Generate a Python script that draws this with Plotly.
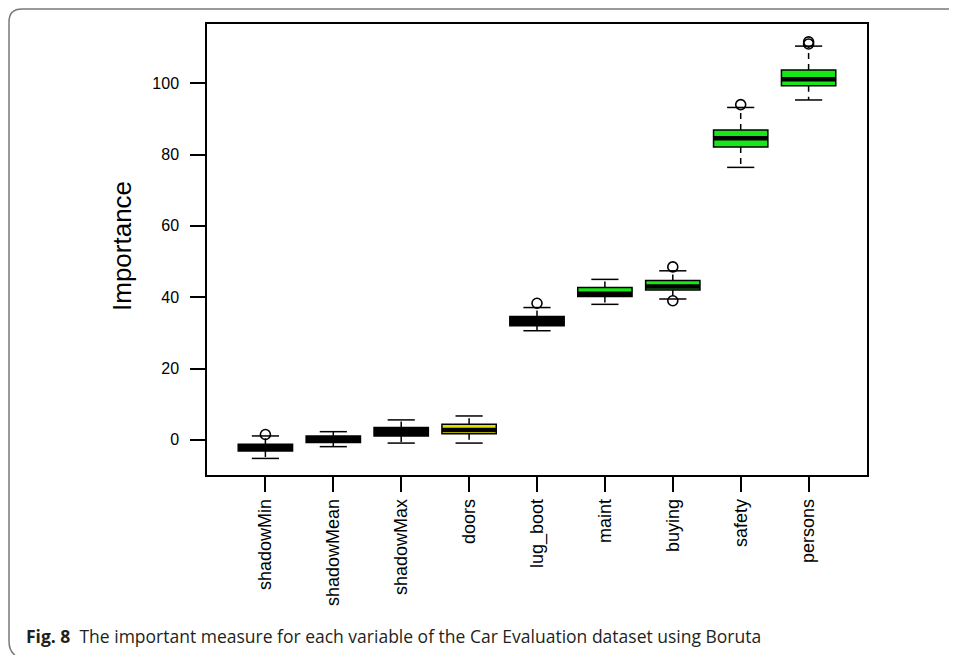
import plotly.graph_objects as go

# ---- data ----
categories = ["shadowMin", "shadowMean", "shadowMax", "doors", "lug_boot",
              "maint", "buying", "safety", "persons"]
q1_vals     = [-3.1, -0.75, 1.1, 1.7, 32.0, 40.2, 42.0, 82.1, 99.3]
median_vals = [-2.2, 0.2, 2.3, 2.8, 33.2, 41.0, 43.0, 84.6, 101.1]
q3_vals     = [-1.2, 1.1, 3.45, 4.4, 34.6, 42.7, 44.7, 86.9, 103.7]
low_whisker = [-5.2, -1.9, -0.9, -0.9, 30.6, 38.0, 39.5, 76.4, 95.3]
high_whisker = [1.1, 2.3, 5.6, 6.7, 37.1, 45.0, 47.4, 93.2, 110.4]
outliers = [[1.5], [], [], [], [38.3], [], [48.5, 39.0], [94.0], [111.0, 111.6]]
box_colors = ["#000000", "#000000", "#000000", "#e0e000", "#000000",
              "#19e619", "#19e619", "#19e619", "#19e619"]
y_ticks = [0, 20, 40, 60, 80, 100]

# ---- layout geometry (screen px; page body has an 8px margin) ----
OFF = 8
WIDTH, HEIGHT = 957 - OFF, 655 - OFF
L, R, T, B = 207 - OFF, 867 - OFF, 24 - OFF, 475 - OFF
PW, PH = R - L, B - T


def px2x(px):
    return (px - OFF - L) / PW


def py2y(py):
    return (B - (py - OFF)) / PH


fig = go.Figure()
xs = list(range(1, len(categories) + 1))
BOXW = 0.8
LW = 1.5

for i, x in enumerate(xs):
    # box body
    fig.add_trace(go.Box(
        x=[x], q1=[q1_vals[i]], median=[median_vals[i]], q3=[q3_vals[i]],
        lowerfence=[q1_vals[i]], upperfence=[q3_vals[i]],
        width=BOXW, fillcolor=box_colors[i],
        line=dict(color="black", width=LW), whiskerwidth=0,
        boxpoints=False, showlegend=False, hoverinfo="skip"))
    # dashed whiskers
    fig.add_trace(go.Scatter(
        x=[x, x, None, x, x],
        y=[q3_vals[i], high_whisker[i], None, q1_vals[i], low_whisker[i]],
        mode="lines", line=dict(color="black", width=LW, dash="6px,5px"),
        showlegend=False, hoverinfo="skip"))
    # whisker caps
    fig.add_trace(go.Scatter(
        x=[x - BOXW / 4, x + BOXW / 4, None, x - BOXW / 4, x + BOXW / 4],
        y=[high_whisker[i], high_whisker[i], None, low_whisker[i], low_whisker[i]],
        mode="lines", line=dict(color="black", width=LW),
        showlegend=False, hoverinfo="skip"))
    # thick median
    fig.add_trace(go.Scatter(
        x=[x - BOXW / 2, x + BOXW / 2], y=[median_vals[i], median_vals[i]],
        mode="lines", line=dict(color="black", width=4.5),
        showlegend=False, hoverinfo="skip"))
    # outliers
    if outliers[i]:
        fig.add_trace(go.Scatter(
            x=[x] * len(outliers[i]), y=outliers[i], mode="markers",
            marker=dict(symbol="circle-open", size=10, color="black",
                        line=dict(width=1.6)),
            showlegend=False, hoverinfo="skip"))

y_font = dict(family="Liberation Sans, Arial, sans-serif", size=16, color="black")
x_font = dict(family="Liberation Sans, Arial, sans-serif", size=18, color="black")

fig.update_xaxes(
    range=[0.14, len(categories) + 0.86], tickmode="array", tickvals=xs,
    ticktext=categories, tickangle=-90, ticks="outside", ticklen=15,
    tickwidth=LW, tickcolor="black", showline=True, linecolor="black",
    linewidth=LW, mirror=True, showgrid=False, zeroline=False,
    tickfont=x_font, ticklabelstandoff=0)
fig.update_yaxes(
    range=[-9.85, 116.6], tickmode="array", tickvals=y_ticks,
    ticktext=[str(v) for v in y_ticks], ticks="outside", ticklen=15,
    tickwidth=LW, tickcolor="black", showline=True, linecolor="black",
    linewidth=LW, mirror=True, showgrid=False, zeroline=False,
    tickfont=y_font, ticklabelstandoff=8)

# outer rounded frame (partial, like the figure panel)
frame_path = (
    f"M {px2x(15)} {py2y(655)} Q {px2x(9)} {py2y(651)} {px2x(9)} {py2y(641)} "
    f"L {px2x(9)} {py2y(22)} Q {px2x(9)} {py2y(9)} {px2x(22)} {py2y(9)} "
    f"L {px2x(957)} {py2y(9)}")

fig.update_layout(
    width=WIDTH, height=HEIGHT,
    margin=dict(l=L, r=WIDTH - R, t=T, b=HEIGHT - B),
    paper_bgcolor="white", plot_bgcolor="white",
    showlegend=False,
    shapes=[dict(type="path", path=frame_path, xref="paper", yref="paper",
                 line=dict(color="#7a7a7a", width=1.5))],
    annotations=[
        dict(text="Importance", x=px2x(122), y=py2y(246), xref="paper",
             yref="paper", textangle=-90, showarrow=False,
             xanchor="center", yanchor="middle",
             font=dict(family="Liberation Sans, Arial, sans-serif", size=26,
                       color="black")),
        dict(text="<b>Fig. 8</b>  The important measure for each variable of the "
                  "Car Evaluation dataset using Boruta",
             x=px2x(24), y=py2y(636), xref="paper", yref="paper",
             showarrow=False, xanchor="left", yanchor="middle",
             font=dict(family="Liberation Sans Narrow, Open Sans, sans-serif",
                       size=17.5, color="#231f20")),
    ])

fig.write_html("out.html")
